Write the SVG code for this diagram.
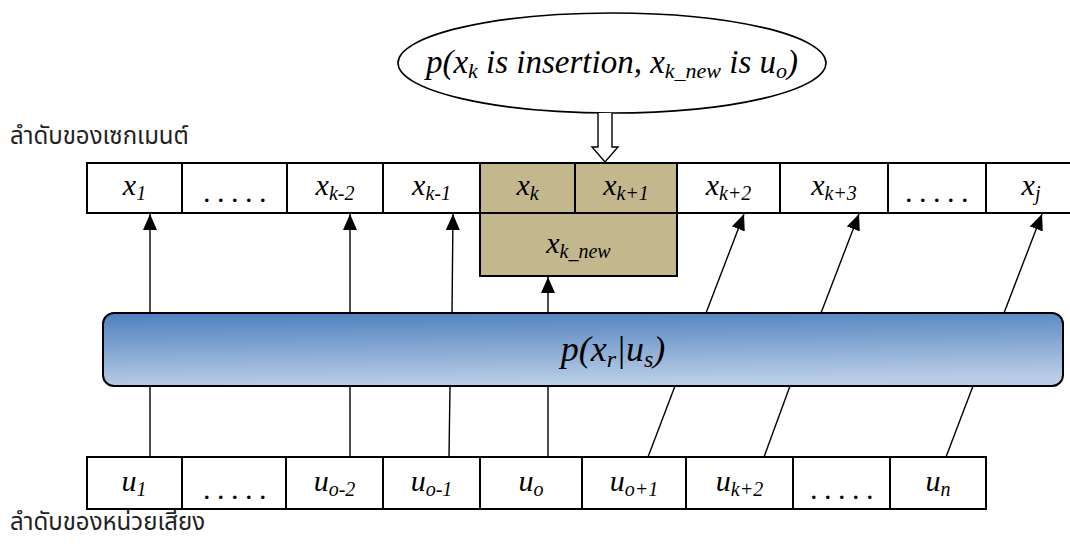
<svg xmlns="http://www.w3.org/2000/svg" width="1070" height="544" viewBox="0 0 1070 544">
<style>
.cell{fill:#ffffff;stroke:#000;stroke-width:2}
.shade{fill:#c3b78e;stroke:#000;stroke-width:2}
.lbl{font-family:"Liberation Serif","Times New Roman",serif;font-style:italic;font-size:30px;fill:#000;text-anchor:middle}
.sub{font-size:20px}
.dots{font-family:"Liberation Serif","Times New Roman",serif;font-size:30px;fill:#000;text-anchor:middle;letter-spacing:6.5px}
.thai{font-family:"Noto Sans Thai",Tahoma,"DejaVu Sans",sans-serif;font-size:24px;fill:#222}
.conn{stroke:#000;stroke-width:1.4;fill:none}
</style>
<defs>
<linearGradient id="blueGrad" x1="0" y1="0" x2="0.15" y2="1">
<stop offset="0" stop-color="#4d7fbe"/>
<stop offset="1" stop-color="#b9cde6"/>
</linearGradient>
<marker id="ah" viewBox="0 0 16 14" refX="16" refY="7" markerWidth="16" markerHeight="14" markerUnits="userSpaceOnUse" orient="auto">
<path d="M0,0 L16,7 L0,14 z" fill="#000"/>
</marker>
</defs>

<text class="thai" x="10" y="144">ลำดับของเซกเมนต์</text>
<text class="thai" x="10" y="530">ลำดับของหน่วยเสียง</text>

<g id="ellipse-node">
<ellipse cx="612" cy="63" rx="214" ry="50" fill="#fff" stroke="#000" stroke-width="1.6"/>
<text class="lbl" x="612" y="73" style="font-size:33px">p(x<tspan dy="5" style="font-size:22px">k</tspan><tspan dy="-5"> is insertion, x</tspan><tspan dy="5" style="font-size:22px">k_new</tspan><tspan dy="-5"> is u</tspan><tspan dy="5" style="font-size:22px">o</tspan><tspan dy="-5">)</tspan></text>
</g>

<g id="hollow-arrow">
<path d="M598,113 L598,147 L592,147 L605,162 L618,147 L612,147 L612,113" fill="#fff" stroke="#000" stroke-width="1.4"/>
</g>

<g id="segment-row">
<rect class="cell" x="87" y="163" width="95" height="50"/>
<rect class="cell" x="182" y="163" width="105" height="50"/>
<rect class="cell" x="287" y="163" width="96" height="50"/>
<rect class="cell" x="383" y="163" width="97" height="50"/>
<rect class="shade" x="480" y="163" width="95" height="50"/>
<rect class="shade" x="575" y="163" width="102" height="50"/>
<rect class="cell" x="677" y="163" width="103" height="50"/>
<rect class="cell" x="780" y="163" width="108" height="50"/>
<rect class="cell" x="888" y="163" width="98" height="50"/>
<rect class="cell" x="986" y="163" width="90" height="50"/>
<text class="lbl" x="134.5" y="195">x<tspan class="sub" dy="5">1</tspan></text>
<text class="dots" x="238" y="202">.....</text>
<text class="lbl" x="335" y="195">x<tspan class="sub" dy="5">k-2</tspan></text>
<text class="lbl" x="431.5" y="195">x<tspan class="sub" dy="5">k-1</tspan></text>
<text class="lbl" x="527.5" y="195">x<tspan class="sub" dy="5">k</tspan></text>
<text class="lbl" x="626" y="195">x<tspan class="sub" dy="5">k+1</tspan></text>
<text class="lbl" x="728.5" y="195">x<tspan class="sub" dy="5">k+2</tspan></text>
<text class="lbl" x="834" y="195">x<tspan class="sub" dy="5">k+3</tspan></text>
<text class="dots" x="940" y="202">.....</text>
<text class="lbl" x="1031" y="195">x<tspan class="sub" dy="5">j</tspan></text>
</g>

<g id="xknew-node">
<rect class="shade" x="480" y="213" width="197" height="63"/>
<text class="lbl" x="578.5" y="253">x<tspan class="sub" dy="5">k_new</tspan></text>
</g>

<g id="prob-node">
<rect x="103" y="313" width="960" height="73" rx="11" ry="11" fill="url(#blueGrad)" stroke="#000" stroke-width="2"/>
<text class="lbl" x="613" y="361" style="font-size:36px">p(x<tspan dy="6" style="font-size:24px">r</tspan><tspan dy="-6">|u</tspan><tspan dy="6" style="font-size:24px">s</tspan><tspan dy="-6">)</tspan></text>
</g>

<g id="unit-row">
<rect class="cell" x="87" y="457" width="95" height="52"/>
<rect class="cell" x="182" y="457" width="104" height="52"/>
<rect class="cell" x="286" y="457" width="97" height="52"/>
<rect class="cell" x="383" y="457" width="97" height="52"/>
<rect class="cell" x="480" y="457" width="102" height="52"/>
<rect class="cell" x="582" y="457" width="104" height="52"/>
<rect class="cell" x="686" y="457" width="107" height="52"/>
<rect class="cell" x="793" y="457" width="97" height="52"/>
<rect class="cell" x="890" y="457" width="96" height="52"/>
<text class="lbl" x="134" y="491">u<tspan class="sub" dy="5">1</tspan></text>
<text class="dots" x="238" y="499">.....</text>
<text class="lbl" x="334.5" y="491">u<tspan class="sub" dy="5">o-2</tspan></text>
<text class="lbl" x="431.5" y="491">u<tspan class="sub" dy="5">o-1</tspan></text>
<text class="lbl" x="531" y="491">u<tspan class="sub" dy="5">o</tspan></text>
<text class="lbl" x="634" y="491">u<tspan class="sub" dy="5">o+1</tspan></text>
<text class="lbl" x="739.5" y="491">u<tspan class="sub" dy="5">k+2</tspan></text>
<text class="dots" x="845" y="499">.....</text>
<text class="lbl" x="938" y="491">u<tspan class="sub" dy="5">n</tspan></text>
</g>

<g id="connectors">
<line class="conn" x1="150" y1="313" x2="150" y2="214" marker-end="url(#ah)"/>
<line class="conn" x1="350" y1="313" x2="350" y2="214" marker-end="url(#ah)"/>
<line class="conn" x1="452" y1="313" x2="453" y2="214" marker-end="url(#ah)"/>
<line class="conn" x1="548" y1="313" x2="548" y2="277" marker-end="url(#ah)"/>
<line class="conn" x1="706" y1="313" x2="744" y2="214" marker-end="url(#ah)"/>
<line class="conn" x1="821" y1="313" x2="859" y2="214" marker-end="url(#ah)"/>
<line class="conn" x1="1004" y1="313" x2="1042" y2="214" marker-end="url(#ah)"/>
<line class="conn" x1="150" y1="386" x2="150" y2="457"/>
<line class="conn" x1="350" y1="386" x2="350" y2="457"/>
<line class="conn" x1="450" y1="386" x2="449" y2="457"/>
<line class="conn" x1="548" y1="386" x2="548" y2="457"/>
<line class="conn" x1="675" y1="386" x2="648" y2="457"/>
<line class="conn" x1="790" y1="386" x2="764" y2="457"/>
<line class="conn" x1="973" y1="386" x2="946" y2="457"/>
</g>
</svg>
